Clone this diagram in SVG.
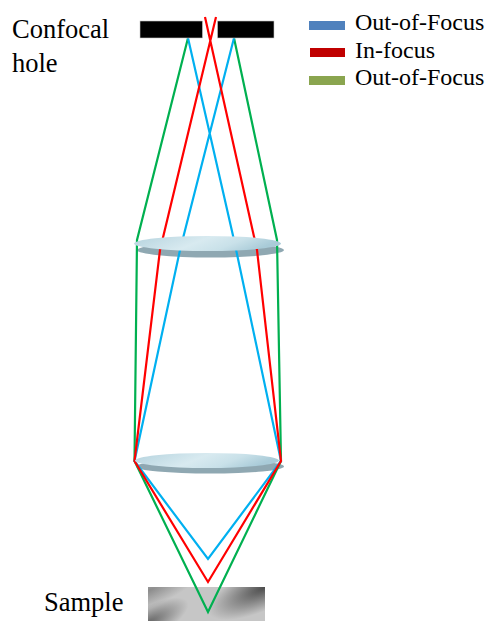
<svg xmlns="http://www.w3.org/2000/svg" width="487" height="621" viewBox="0 0 487 621">
<style>
.t{font-family:"Liberation Serif","Times New Roman",serif;fill:#000}
.big{font-size:26.500px}
.leg{font-size:24px}
.ray{fill:none;stroke-width:2.200;stroke-linejoin:miter}
.g{stroke:#00b050}.r{stroke:#ff0000}.b{stroke:#00b0f0}
.shadow{fill:#8fa8b2}
.glass{fill:url(#lens)}
.block{fill:#000;stroke:#c8c8c8;stroke-width:.6}
</style>
<defs>
<linearGradient id="lens" x1="0" y1="0" x2="1" y2="0.25">
<stop offset="0" stop-color="#b5d3de"/><stop offset=".5" stop-color="#d8eaf0"/><stop offset=".75" stop-color="#c9e1e9"/><stop offset="1" stop-color="#a9cbd8"/>
</linearGradient>
<radialGradient id="samA" gradientUnits="userSpaceOnUse" cx="0" cy="0" r="1" gradientTransform="translate(148 623) rotate(-28) scale(45 16)">
<stop offset="0" stop-color="#666" stop-opacity="1"/><stop offset="1" stop-color="#666" stop-opacity="0"/>
</radialGradient>
<radialGradient id="samB" gradientUnits="userSpaceOnUse" cx="0" cy="0" r="1" gradientTransform="translate(150 590) rotate(-25) scale(62 17)">
<stop offset="0" stop-color="#8c8c8c" stop-opacity="1"/><stop offset="1" stop-color="#8c8c8c" stop-opacity="0"/>
</radialGradient>
<radialGradient id="samC" gradientUnits="userSpaceOnUse" cx="0" cy="0" r="1" gradientTransform="translate(265 587) rotate(-25) scale(62 22)">
<stop offset="0" stop-color="#4c4c4c" stop-opacity="1"/><stop offset="1" stop-color="#4c4c4c" stop-opacity="0"/>
</radialGradient>
</defs>
<rect width="487" height="621" fill="#fff"/>
<g id="sample"><rect x="148" y="587" width="117" height="34" fill="#c6c6c6"/><rect x="148" y="587" width="117" height="34" fill="url(#samB)"/><rect x="148" y="587" width="117" height="34" fill="url(#samA)"/><rect x="148" y="587" width="117" height="34" fill="url(#samC)"/></g>
<g id="lens-top-shadow"><ellipse class="shadow" cx="210.500" cy="250" rx="73.500" ry="7.500"/></g>
<g id="lens-bottom-shadow"><ellipse class="shadow" cx="210" cy="466.500" rx="74" ry="7"/></g>
<g id="connectors">
<polyline class="ray g" points="188,38 137,240 134.500,461 208,612 281,461 277,240 234,38"/>
<polyline class="ray b" points="188,38 234,240 281,461 208,559 134.500,461 180,250 234,38"/>
<polyline class="ray r" points="205,17 257,250 281,461 208,582 134.500,461 160,250 216,17"/>
</g>
<g id="lens-top"><ellipse class="glass" cx="207.500" cy="243.500" rx="73.500" ry="7.500"/></g>
<g id="lens-bottom"><ellipse class="glass" cx="207" cy="460.500" rx="72" ry="7.500"/></g>
<g id="hole"><rect class="block" x="140" y="21" width="62.500" height="17"/><rect class="block" x="217.500" y="21" width="56.500" height="17"/></g>
<g id="label-hole"><text class="t big" x="12" y="38">Confocal</text><text class="t big" x="12" y="72">hole</text></g>
<g id="label-sample"><text class="t big" x="44" y="611">Sample</text></g>
<g id="legend">
<rect x="309" y="21" width="36" height="9" fill="#4f81bd"/><text class="t leg" x="355" y="30">Out-of-Focus</text>
<rect x="310" y="48" width="35" height="9" fill="#c00000"/><text class="t leg" x="355" y="58">In-focus</text>
<rect x="309" y="76" width="36" height="9" fill="#8aa54f"/><text class="t leg" x="355" y="85">Out-of-Focus</text>
</g>
</svg>
